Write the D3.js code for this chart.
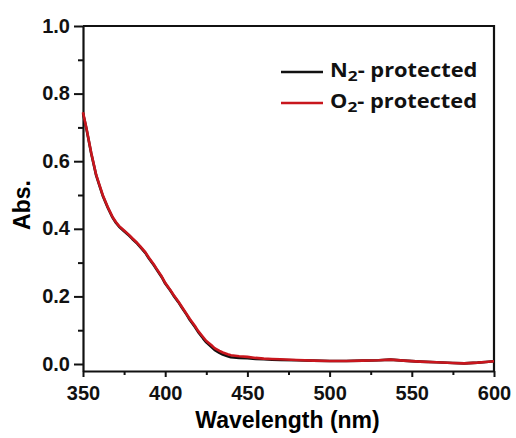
<!DOCTYPE html>
<html>
<head>
<meta charset="utf-8">
<script src="https://cdn.jsdelivr.net/npm/d3@7"></script>
<style>
  body { margin: 0; background: #fff; }
  svg { display: block; }
  .tick text { font-family: "Liberation Sans", Arial, sans-serif; font-weight: bold; font-size: 20px; fill: #111; }
</style>
</head>
<body>
<svg width="516" height="438"></svg>
<script>
// wavelengths (nm) and absorbance
const wavelengths = [350, 352, 355, 358, 360, 362, 365, 368, 370, 372, 375, 378, 380, 383, 385, 388, 390, 393, 395, 398,
  400, 403, 405, 408, 410, 413, 415, 418, 420, 423, 425, 428, 430, 433, 435, 438, 440, 445, 450, 455,
  460, 465, 470, 480, 490, 500, 510, 520, 530, 537, 545, 555, 565, 575, 582, 590, 595, 600];
const n2Abs = [0.742, 0.698, 0.623, 0.558, 0.528, 0.498, 0.463, 0.433, 0.418, 0.406, 0.393, 0.380, 0.370, 0.356, 0.345, 0.328, 0.313, 0.293, 0.278, 0.256,
  0.238, 0.218, 0.203, 0.183, 0.168, 0.146, 0.130, 0.110, 0.095, 0.076, 0.064, 0.051, 0.042, 0.033, 0.028, 0.023, 0.020, 0.018, 0.017, 0.015,
  0.014, 0.013, 0.012, 0.011, 0.010, 0.009, 0.009, 0.010, 0.011, 0.013, 0.010, 0.007, 0.005, 0.003, 0.002, 0.004, 0.006, 0.008];
const o2Abs = [0.745, 0.700, 0.625, 0.560, 0.530, 0.500, 0.465, 0.435, 0.420, 0.408, 0.395, 0.382, 0.372, 0.358, 0.347, 0.330, 0.315, 0.295, 0.280, 0.258,
  0.240, 0.220, 0.205, 0.185, 0.170, 0.148, 0.133, 0.113, 0.098, 0.080, 0.068, 0.056, 0.047, 0.039, 0.034, 0.029, 0.026, 0.023, 0.021, 0.018,
  0.016, 0.015, 0.014, 0.012, 0.010, 0.009, 0.009, 0.010, 0.011, 0.013, 0.010, 0.007, 0.005, 0.003, 0.002, 0.004, 0.006, 0.008];
const xTicks = [350, 400, 450, 500, 550, 600];
const yTicks = [0.0, 0.2, 0.4, 0.6, 0.8, 1.0];
const seriesNames = ['N', 'O'];
const seriesColors = ['#111111', '#c8161d'];

const svg = d3.select('svg');
const margin = { top: 26, right: 22, bottom: 67, left: 83 };
const width = +svg.attr('width') - margin.left - margin.right;
const height = +svg.attr('height') - margin.top - margin.bottom;

const g = svg.append('g').attr('transform', `translate(${margin.left},${margin.top})`);

const x = d3.scaleLinear().domain([350, 600]).range([0, width]);
const y = d3.scaleLinear().domain([-0.0207, 1.0]).range([height, 0]);

// minor ticks first
g.append('g')
  .attr('transform', `translate(0,${height})`)
  .call(d3.axisBottom(x).tickValues(d3.range(375, 600, 50)).tickSize(4).tickFormat(''))
  .call(a => a.select('.domain').remove());
g.append('g')
  .call(d3.axisLeft(y).tickValues(d3.range(0.1, 1.0, 0.2)).tickSize(5).tickFormat(''))
  .call(a => a.select('.domain').remove());

const xAxis = g.append('g')
  .attr('transform', `translate(0,${height})`)
  .call(d3.axisBottom(x).tickValues(xTicks).tickSize(6).tickPadding(9).tickSizeOuter(0));
const yAxis = g.append('g')
  .call(d3.axisLeft(y).tickValues(yTicks).tickSize(9).tickPadding(4).tickFormat(d3.format('.1f')).tickSizeOuter(0));

g.selectAll('.tick line').attr('stroke', '#111').attr('stroke-width', 2);
g.selectAll('.domain').attr('stroke', '#111').attr('stroke-width', 2.2);
yAxis.selectAll('.tick text').attr('dy', '0.3em');

// top and right frame
g.append('path')
  .attr('d', `M0,0H${width}V${height}`)
  .attr('fill', 'none').attr('stroke', '#111').attr('stroke-width', 2.2);

const line = d3.line().x((d, i) => x(wavelengths[i])).y(d => y(d));
[n2Abs, o2Abs].forEach((vals, i) => {
  g.append('path')
    .datum(vals)
    .attr('fill', 'none')
    .attr('stroke', seriesColors[i])
    .attr('stroke-width', 2.6)
    .attr('stroke-linejoin', 'round')
    .attr('d', line);
});

// axis titles
svg.append('text')
  .attr('x', margin.left + width / 2 - 1).attr('y', 428)
  .attr('text-anchor', 'middle')
  .style('font-family', '"Liberation Sans", Arial, sans-serif').style('font-weight', 'bold').style('font-size', '23px')
  .text('Wavelength (nm)');
svg.append('text')
  .attr('transform', `translate(30,205) rotate(-90)`)
  .attr('text-anchor', 'middle')
  .style('font-family', '"Liberation Sans", Arial, sans-serif').style('font-weight', 'bold').style('font-size', '23px')
  .text('Abs.');

// legend
const legend = svg.append('g');
seriesNames.forEach((nm, i) => {
  const ly = 72 + i * 31;
  legend.append('line')
    .attr('x1', 281).attr('x2', 323).attr('y1', ly).attr('y2', ly)
    .attr('stroke', seriesColors[i]).attr('stroke-width', 2.6);
  const t = legend.append('text')
    .attr('transform', `translate(330,${ly + 5}) scale(1.15,1)`)
    .style('font-family', '"Open Sans", sans-serif').style('font-weight', 'bold').style('font-size', '19px')
    .attr('fill', '#111');
  t.append('tspan').text(nm);
  t.append('tspan').attr('dy', 4).style('font-size', '15px').text('2');
  t.append('tspan').attr('dy', -4).text('- protected');
});
</script>
</body>
</html>
